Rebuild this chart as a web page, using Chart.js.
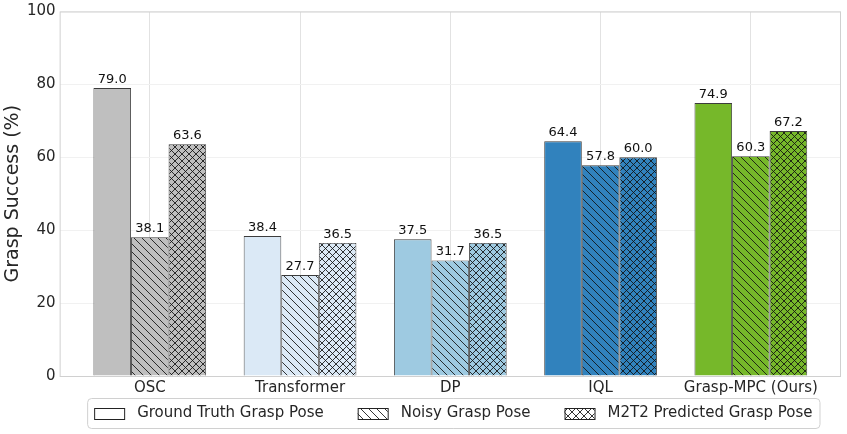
<!DOCTYPE html>
<html>
<head>
<meta charset="utf-8">
<script src="https://cdn.jsdelivr.net/npm/chart.js@4.4.1/dist/chart.umd.min.js"></script>
<style>
  html, body { margin: 0; padding: 0; background: #fff; }
  #wrap { width: 847px; height: 434px; position: relative; }
</style>
</head>
<body>
<div id="wrap"><canvas id="bars"></canvas></div>
<script>
const methods = ['OSC', 'Transformer', 'DP', 'IQL', 'Grasp-MPC (Ours)'];
const groundTruth = [79.0, 38.4, 37.5, 64.4, 74.9];
const noisy = [38.1, 27.7, 31.7, 57.8, 60.3];
const m2t2 = [63.6, 36.5, 36.5, 60.0, 67.2];
const seriesNames = ['Ground Truth Grasp Pose', 'Noisy Grasp Pose', 'M2T2 Predicted Grasp Pose'];
const methodColors = ['#bfbfbf', '#dbe9f6', '#9ecae1', '#3182bd', '#76b82a'];
const yTicks = [0, 20, 40, 60, 80, 100];

// hatch tiles, like matplotlib '\\\\' and 'xxx'
function hatch(bg, kind, s) {
    s = s || (kind === 'x' ? 7 : 8);
    const c = document.createElement('canvas');
    c.width = s; c.height = s;
    const g = c.getContext('2d');
    g.fillStyle = bg;
    g.fillRect(0, 0, s, s);
    if (kind) {
        g.strokeStyle = '#111';
        g.lineWidth = 0.85;
        g.beginPath();
        for (const k of [-s, 0, s]) {
            g.moveTo(k, 0); g.lineTo(k + s, s);
            if (kind === 'x') { g.moveTo(k + s, 0); g.lineTo(k, s); }
        }
        g.stroke();
    }
    return g.createPattern(c, 'repeat');
}

const kinds = [null, '\\', 'x'];
const values = [groundTruth, noisy, m2t2];

const datasets = values.map((vals, d) => ({
    label: seriesNames[d],
    data: vals.map((v, i) => ({ x: i, y: v })),
    backgroundColor: methodColors.map(col => hatch(col, kinds[d])),
    borderColor: '#3c3c3c',
    borderWidth: 0.9,
    categoryPercentage: 0.75,
    barPercentage: 1.0,
}));

const valueLabels = {
    id: 'valueLabels',
    afterDatasetsDraw(chart) {
        const ctx = chart.ctx;
        ctx.save();
        ctx.font = '13px "DejaVu Sans"';
        ctx.fillStyle = '#111';
        ctx.textAlign = 'center';
        ctx.textBaseline = 'bottom';
        chart.data.datasets.forEach((ds, d) => {
            chart.getDatasetMeta(d).data.forEach((el, i) => {
                ctx.fillText(values[d][i].toFixed(1), el.x, el.y - 2);
            });
        });
        ctx.restore();
    }
};

const frame = {
    id: 'frame',
    beforeDatasetsDraw(chart) {
        const a = chart.chartArea, ctx = chart.ctx;
        ctx.save();
        ctx.strokeStyle = '#d0d0d0';
        ctx.lineWidth = 1;
        ctx.strokeRect(a.left + 0.5, a.top + 0.5, a.right - a.left - 1, a.bottom - a.top);
        ctx.restore();
    }
};

// legend drawn by hand so the item spacing matches
const boxLegend = {
    id: 'boxLegend',
    afterDraw(chart) {
        const ctx = chart.ctx, a = chart.chartArea;
        ctx.save();
        ctx.font = '15px "DejaVu Sans"';
        const sw = 30, sh = 11, gapText = 13, gapItem = 34, padX = 7;
        const widths = seriesNames.map(n => ctx.measureText(n).width);
        const inner = widths.reduce((s, w) => s + sw + gapText + w, 0) + gapItem * (seriesNames.length - 1);
        const cx = (a.left + a.right) / 2 + 3;
        const left = cx - inner / 2 - padX;
        const top = 398, h = 30;
        ctx.strokeStyle = '#d0d0d0';
        ctx.lineWidth = 1;
        ctx.beginPath();
        ctx.roundRect(left + 0.5, top + 0.5, inner + padX * 2, h, 4);
        ctx.stroke();
        let x = left + padX;
        const mid = top + h / 2 + 0.5;
        seriesNames.forEach((name, d) => {
            ctx.fillStyle = hatch('#ffffff', kinds[d], 8);
            ctx.fillRect(x, mid - sh / 2, sw, sh);
            ctx.strokeStyle = '#222';
            ctx.strokeRect(x + 0.5, mid - sh / 2 + 0.5, sw, sh);
            ctx.fillStyle = '#262626';
            ctx.textBaseline = 'middle';
            ctx.fillText(name, x + sw + gapText, mid);
            x += sw + gapText + widths[d] + gapItem;
        });
        ctx.restore();
    }
};

new Chart(document.getElementById('bars'), {
    type: 'bar',
    data: { datasets },
    options: {
        responsive: true,
        maintainAspectRatio: false,
        animation: false,
        layout: { padding: { top: 0, right: 6, left: 4, bottom: 34 } },
        scales: {
            x: {
                type: 'linear',
                min: -0.6,
                max: 4.6,
                offset: false,
                grid: { color: '#e2e2e2', offset: false, drawTicks: false },
                border: { display: false },
                ticks: {
                    stepSize: 1,
                    includeBounds: false,
                    padding: 3,
                    color: '#262626',
                    font: { family: 'DejaVu Sans', size: 15 },
                    callback: v => Number.isInteger(v) ? methods[v] : ''
                }
            },
            y: {
                min: 0,
                max: 100,
                afterBuildTicks: axis => { axis.ticks = yTicks.map(v => ({ value: v })); },
                grid: { color: '#f1f1f1', drawTicks: false },
                border: { display: false },
                ticks: {
                    padding: 4,
                    color: '#262626',
                    font: { family: 'DejaVu Sans', size: 15, lineHeight: 1.0 }
                },
                title: {
                    display: true,
                    text: 'Grasp Success (%)',
                    color: '#262626',
                    font: { family: 'DejaVu Sans', size: 19, lineHeight: 1.0 },
                    padding: { top: 0, bottom: 0 }
                }
            }
        },
        plugins: {
            legend: { display: false },
            tooltip: { enabled: false }
        }
    },
    plugins: [valueLabels, frame, boxLegend]
});
</script>
</body>
</html>
